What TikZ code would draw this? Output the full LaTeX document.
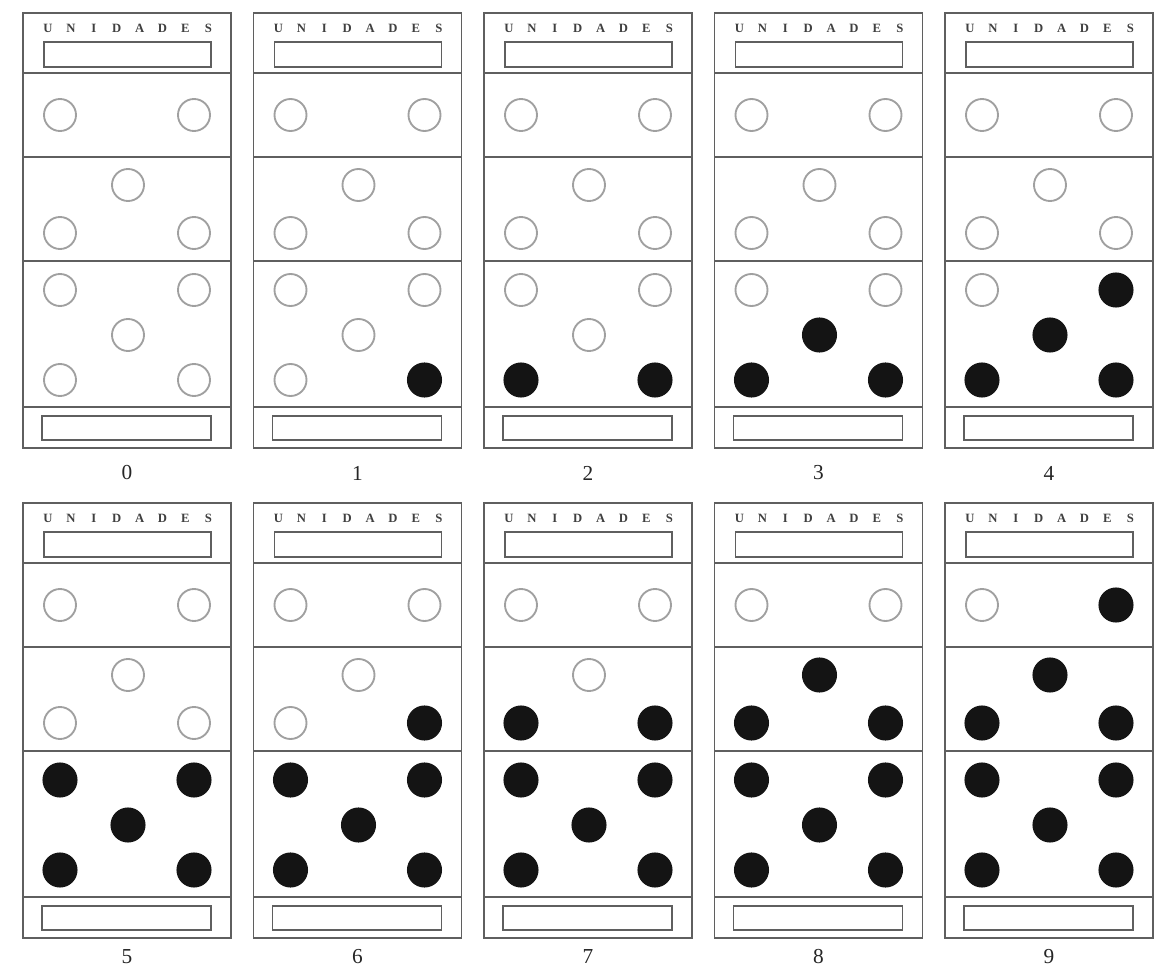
\documentclass[tikz,border=0pt]{standalone}
\usepackage{fontspec}
\setmainfont{Liberation Serif}
\definecolor{lineg}{RGB}{95,95,95}
\definecolor{dotg}{RGB}{160,160,160}
\definecolor{dotk}{RGB}{20,20,20}
\tikzset{
  cardline/.style={draw=lineg, line width=1.2pt},
  emptydot/.style={circle, draw=dotg, line width=1.4pt, minimum size=24pt, inner sep=0pt},
  fulldot/.style={circle, draw=dotk, fill=dotk, line width=0.8pt, minimum size=25.5pt, inner sep=0pt},
  letter/.style={text=black!75, font=\fontsize{9.5}{10}\selectfont\bfseries, inner sep=0pt},
  numlab/.style={text=black!85, font=\fontsize{16}{18}\selectfont, inner sep=0pt}
}
\begin{document}
\begin{tikzpicture}[x=0.75pt,y=-0.75pt]
\useasboundingbox (0,0) rectangle (1165,973);
\foreach \n in {0,...,9} {
  \pgfmathtruncatemacro\col{mod(\n,5)}
  \pgfmathtruncatemacro\row{int(\n/5)}
  \pgfmathsetmacro\X{23+\col*230.5}
  \pgfmathsetmacro\Y{13+\row*490}
  \pgfmathsetmacro\LY{460-6*\row}
  \begin{scope}[shift={(\X,\Y)}]
    \draw[cardline] (0,0) rectangle (208,435);
    \draw[cardline] (0,60) -- (208,60);
    \draw[cardline] (0,144) -- (208,144);
    \draw[cardline] (0,248) -- (208,248);
    \draw[cardline] (0,394) -- (208,394);
    \draw[cardline] (21,29) rectangle (188,54);
    \draw[cardline] (19,403) rectangle (188,427);
    \foreach \ch [count=\k from 0] in {U,N,I,D,A,D,E,S} {
      \node[letter] (let\n-\k) at (25+\k*22.9,15) {\ch};
    }
    \foreach \cx/\cy/\thr [count=\m] in {37/102/10, 171/102/9, 105/172/8, 37/220/7, 171/220/6, 37/277/5, 171/277/4, 105/322/3, 37/367/2, 171/367/1} {
      \ifnum\n<\thr
        \node[emptydot] (dot\n-\m) at (\cx,\cy) {};
      \else
        \node[fulldot] (dot\n-\m) at (\cx,\cy) {};
      \fi
    }
    \node[numlab] (lab\n) at (104,\LY) {\n};
  \end{scope}
}
\end{tikzpicture}
\end{document}
